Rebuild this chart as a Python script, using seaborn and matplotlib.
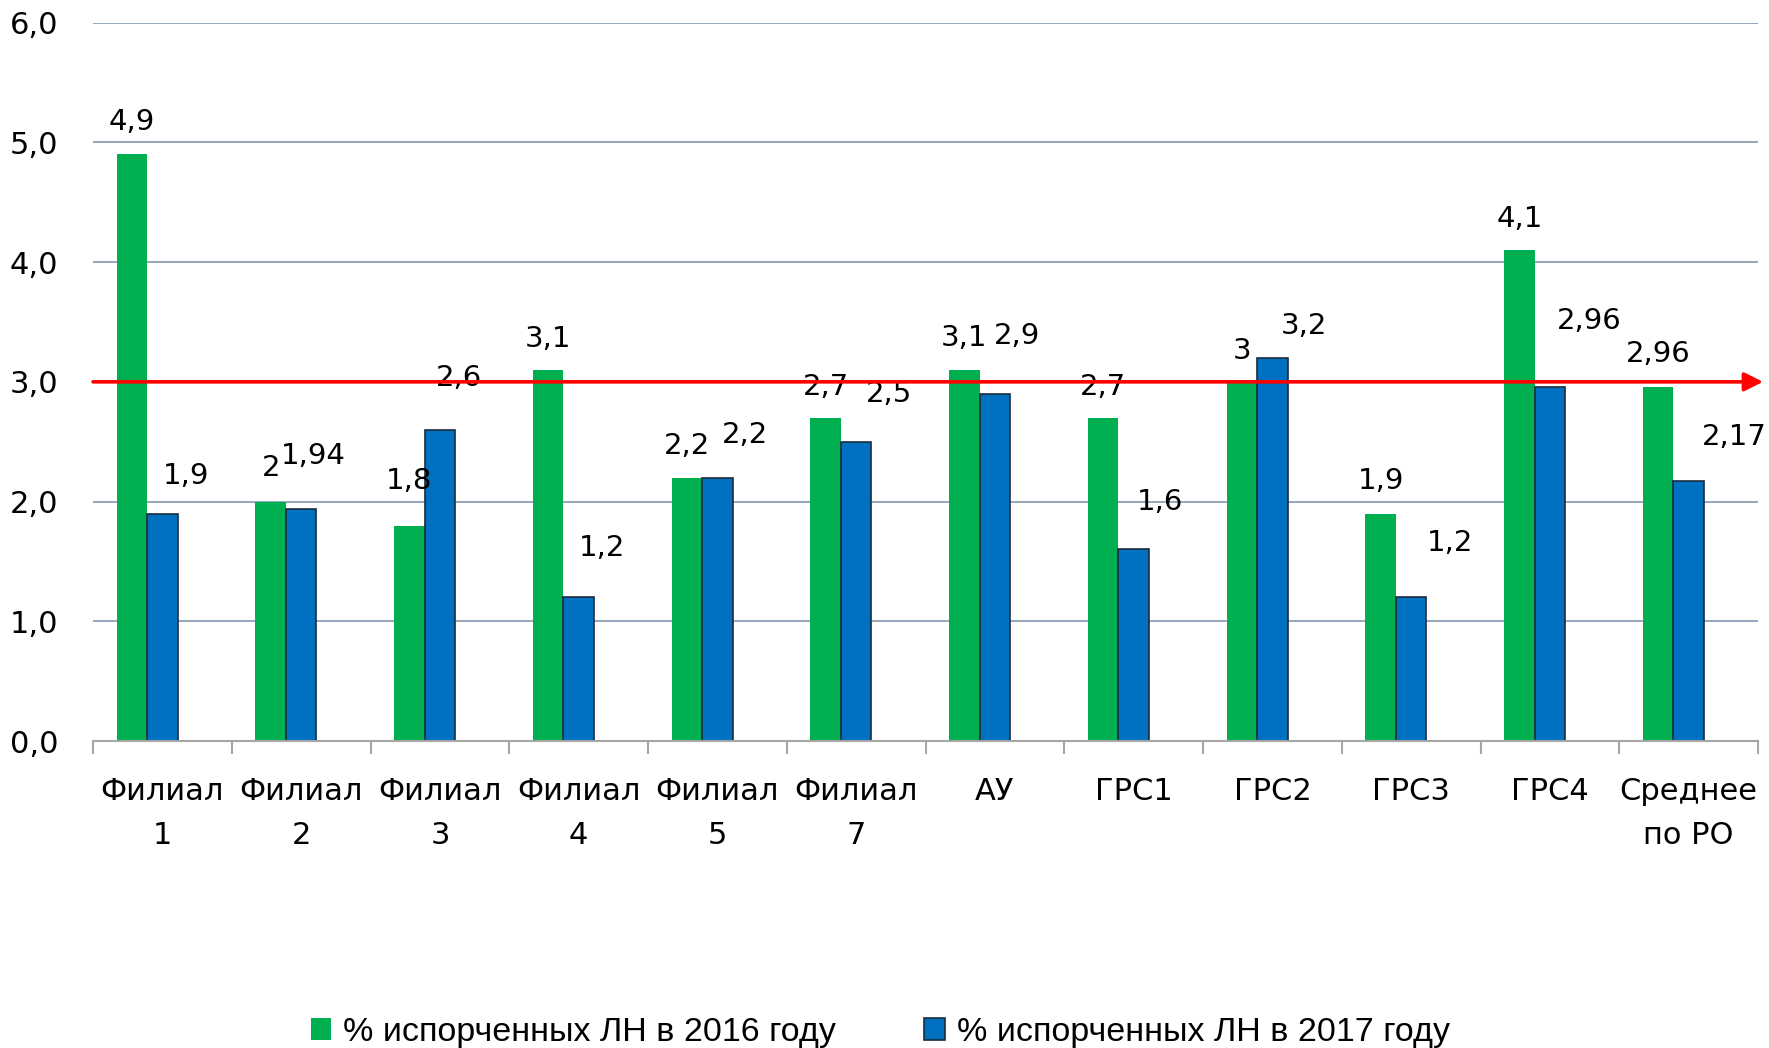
import numpy as np
import pandas as pd
import matplotlib
matplotlib.use("Agg")
import matplotlib.pyplot as plt
from matplotlib.patches import Patch
import seaborn as sns

# data
categories = ["Филиал\n1", "Филиал\n2", "Филиал\n3", "Филиал\n4", "Филиал\n5",
              "Филиал\n7", "АУ", "ГРС1", "ГРС2", "ГРС3", "ГРС4", "Среднее\nпо РО"]
values_2016 = [4.9, 2.0, 1.8, 3.1, 2.2, 2.7, 3.1, 2.7, 3.0, 1.9, 4.1, 2.96]
values_2017 = [1.9, 1.94, 2.6, 1.2, 2.2, 2.5, 2.9, 1.6, 3.2, 1.2, 2.96, 2.17]
series_names = ["% испорченных ЛН в 2016 году", "% испорченных ЛН в 2017 году"]
norm_level = 3.0

# label nudges (Excel labels were dragged by hand in the original)
nudge_y_2016 = [0.27, 0.28, 0.37, 0.26, 0.26, 0.26, 0.27, 0.26, 0.26, 0.27, 0.26, 0.27]
nudge_x_2017 = [0.17, 0.09, 0.14, 0.17, 0.20, 0.24, 0.16, 0.19, 0.23, 0.28, 0.28, 0.33]
nudge_y_2017 = [0.31, 0.44, 0.43, 0.41, 0.36, 0.40, 0.48, 0.40, 0.27, 0.45, 0.55, 0.37]

GREEN = "#00B050"
BLUE = "#0070C0"
SPACER = "_spacer"


def fmt(v):
    return f"{v:g}".replace(".", ",")


def main():
    sns.set_style("white")
    plt.rcParams["font.family"] = ["DejaVu Sans"]
    plt.rcParams["text.color"] = "black"
    plt.rcParams["xtick.color"] = "black"
    plt.rcParams["ytick.color"] = "black"

    df = pd.DataFrame({
        "cat": categories * 3,
        "val": values_2016 + values_2017 + [np.nan] * len(categories),
        "series": [series_names[0]] * len(categories)
                  + [series_names[1]] * len(categories)
                  + [SPACER] * len(categories),
    })

    fig = plt.figure(figsize=(17.69, 10.48), dpi=100)
    ax = fig.add_axes([0.0526, 0.2929, 0.9412, 0.6855])

    sns.barplot(data=df, x="cat", y="val", hue="series",
                hue_order=series_names + [SPACER], order=categories,
                palette={series_names[0]: GREEN, series_names[1]: BLUE, SPACER: "white"},
                saturation=1, width=0.66, gap=0, errorbar=None, legend=False,
                ax=ax, zorder=2)

    for bar in ax.containers[0]:
        bar.set_edgecolor("none")
    for bar in ax.containers[1]:
        bar.set_edgecolor("#1B2B3C")
        bar.set_linewidth(1.2)

    bw = 0.22
    for i, (v1, v2) in enumerate(zip(values_2016, values_2017)):
        ax.text(i - bw, v1 + nudge_y_2016[i], fmt(v1), ha="center", va="center",
                fontsize=21, color="black", zorder=5)
        ax.text(i + nudge_x_2017[i], v2 + nudge_y_2017[i], fmt(v2), ha="center",
                va="center", fontsize=21, color="black", zorder=5)

    # norm line with arrow
    ax.annotate("", xy=(1.003, norm_level), xytext=(0.0, norm_level),
                xycoords=("axes fraction", "data"), textcoords=("axes fraction", "data"),
                arrowprops=dict(arrowstyle="-|>", color="#FF0000", lw=2.6,
                                mutation_scale=28, shrinkA=0, shrinkB=0),
                annotation_clip=False, zorder=6)

    yticks = np.arange(0, 7, 1)
    ax.set_xlim(-0.5, len(categories) - 0.5)
    ax.set_ylim(0, 6)
    ax.set_yticks(yticks)
    ax.set_yticklabels([f"{t:.1f}".replace(".", ",") for t in yticks])
    ax.yaxis.grid(True, color="#8497B0", linewidth=1.2, zorder=0)
    ax.set_axisbelow(True)
    ax.set_xlabel("")
    ax.set_ylabel("")

    for side in ["top", "right", "left"]:
        ax.spines[side].set_visible(False)
    ax.spines["bottom"].set_color("#A6A6A6")
    ax.spines["bottom"].set_linewidth(1.5)

    ax.set_xticks(np.arange(-0.5, len(categories), 1), minor=True)
    ax.tick_params(axis="x", which="minor", length=9, width=1.5, color="#A6A6A6",
                   direction="out", bottom=True)
    ax.tick_params(axis="x", which="major", length=0, pad=26, labelsize=22)
    ax.tick_params(axis="y", length=0, pad=25, labelsize=22)
    for lab in ax.get_xticklabels():
        lab.set_linespacing(1.65)

    handles = [Patch(facecolor=GREEN, edgecolor="none"),
               Patch(facecolor=BLUE, edgecolor="#1B2B3C", linewidth=1.2)]
    fig.legend(handles, series_names, loc="center", bbox_to_anchor=(0.4975, 0.015),
               ncol=2, frameon=False, prop={"family": ["Liberation Sans", "DejaVu Sans"], "size": 24.5},
               handlelength=0.6, handleheight=0.6, handletextpad=0.35, columnspacing=2.6)

    fig.savefig("out.png", dpi=100)
    plt.close(fig)


if __name__ == "__main__":
    main()
